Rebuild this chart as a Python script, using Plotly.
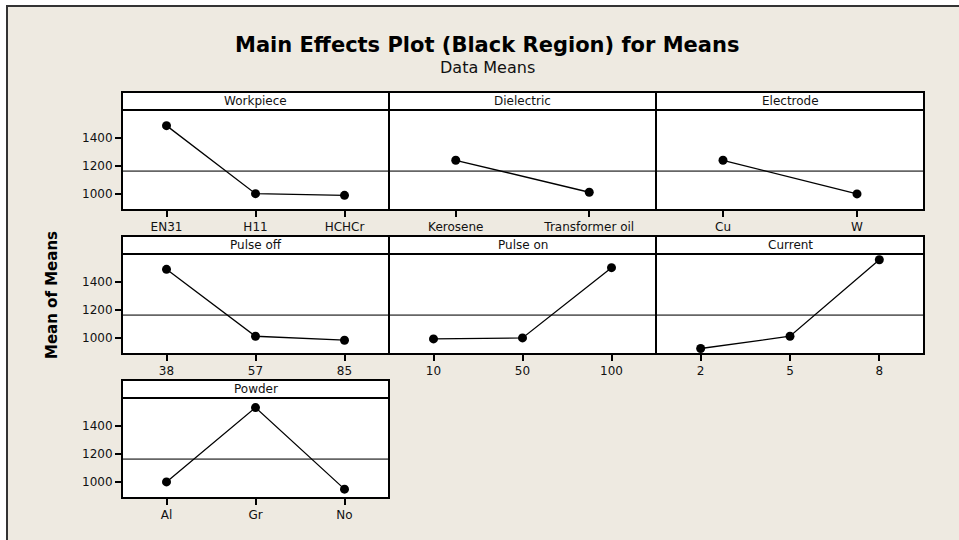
import plotly.graph_objects as go

W, H = 959, 540

# ---------------- data ----------------
factors = ["Workpiece", "Dielectric", "Electrode", "Pulse off", "Pulse on", "Current", "Powder"]
workpiece_levels = ["EN31", "H11", "HCHCr"]
workpiece_means = [1485, 1002, 990]
dielectric_levels = ["Kerosene", "Transformer oil"]
dielectric_means = [1239, 1012]
electrode_levels = ["Cu", "W"]
electrode_means = [1239, 1000]
pulse_off_levels = ["38", "57", "85"]
pulse_off_means = [1487, 1012, 984]
pulse_on_levels = ["10", "50", "100"]
pulse_on_means = [993, 1000, 1499]
current_levels = ["2", "5", "8"]
current_means = [925, 1012, 1555]
powder_levels = ["Al", "Gr", "No"]
powder_means = [1000, 1528, 949]
grand_mean = 1162
y_ticks = [1000, 1200, 1400]
y_range = [886, 1596]

levels = [workpiece_levels, dielectric_levels, electrode_levels, pulse_off_levels,
          pulse_on_levels, current_levels, powder_levels]
means = [workpiece_means, dielectric_means, electrode_means, pulse_off_means,
         pulse_on_means, current_means, powder_means]

# ---------------- layout geometry (pixels) ----------------
col_x = [(122, 389), (389, 656), (656, 924)]
row_y = [(92, 110, 210), (236, 254, 354), (380, 398, 498)]

BG = "#EEEAE1"
FONT = "DejaVu Sans"
LW = 2

fig = go.Figure()
shapes = []
annotations = []
layout = {}

for i, (name, lv, mv) in enumerate(zip(factors, levels, means)):
    n = i + 1
    r, c = divmod(i, 3)
    x0, x1 = col_x[c]
    ht, hb, pb = row_y[r]
    xa = "xaxis" if n == 1 else f"xaxis{n}"
    ya = "yaxis" if n == 1 else f"yaxis{n}"
    xr = "x" if n == 1 else f"x{n}"
    yr = "y" if n == 1 else f"y{n}"
    layout[xa] = dict(
        domain=[x0 / W, x1 / W], anchor=yr, type="category",
        range=[-0.5, len(lv) - 0.5],
        showline=False,
        ticks="outside", ticklen=6, tickwidth=1.5, tickcolor="black",
        showgrid=False, zeroline=False,
        tickfont=dict(family=FONT, size=12, color="#111"),
    )
    layout[ya] = dict(
        domain=[1 - pb / H, 1 - hb / H], anchor=xr,
        range=y_range, tickvals=y_ticks,
        showticklabels=(c == 0), ticks="outside" if c == 0 else "",
        ticklen=6, tickwidth=1.5, tickcolor="black",
        showline=False,
        showgrid=False, zeroline=False,
        tickfont=dict(family=FONT, size=12, color="#111"),
    )
    fig.add_trace(go.Scatter(
        x=lv, y=mv, xaxis=xr, yaxis=yr, mode="lines+markers",
        line=dict(color="black", width=1.3),
        marker=dict(size=9, color="black"),
        showlegend=False, cliponaxis=False,
    ))
    shapes.append(dict(
        type="line", xref=f"{xr} domain", yref=yr, x0=0, x1=1,
        y0=grand_mean, y1=grand_mean,
        line=dict(color="#666666", width=1.8), layer="below",
    ))
    # panel frame
    shapes.append(dict(
        type="rect", xref=f"{xr} domain", yref=f"{yr} domain",
        x0=0, x1=1, y0=0, y1=1,
        line=dict(color="black", width=LW), layer="above",
    ))
    # strip header
    shapes.append(dict(
        type="rect", xref="paper", yref="paper",
        x0=x0 / W, x1=x1 / W, y0=1 - hb / H, y1=1 - ht / H,
        fillcolor="white", line=dict(color="black", width=LW), layer="above",
    ))
    annotations.append(dict(
        text=name, xref="paper", yref="paper",
        x=(x0 + x1) / 2 / W, y=1 - (ht + hb) / 2 / H,
        xanchor="center", yanchor="middle", showarrow=False,
        font=dict(family=FONT, size=12, color="#111"),
    ))

# outer frame: white strips outside the beige frame + dark frame lines
shapes += [
    dict(type="rect", xref="paper", yref="paper", x0=0, x1=6 / W, y0=0, y1=1,
         fillcolor="white", line=dict(width=0), layer="below"),
    dict(type="rect", xref="paper", yref="paper", x0=0, x1=1, y0=1 - 5 / H, y1=1,
         fillcolor="white", line=dict(width=0), layer="below"),
    dict(type="line", xref="paper", yref="paper", x0=6 / W, x1=1, y0=1 - 6 / H, y1=1 - 6 / H,
         line=dict(color="#333", width=2), layer="above"),
    dict(type="line", xref="paper", yref="paper", x0=7 / W, x1=7 / W, y0=0, y1=1 - 6 / H,
         line=dict(color="#333", width=2), layer="above"),
]

annotations += [
    dict(text="<b>Main Effects Plot (Black Region) for Means</b>", xref="paper", yref="paper",
         x=487 / W, y=1 - 45 / H, xanchor="center", yanchor="middle", showarrow=False,
         font=dict(family=FONT, size=21, color="black")),
    dict(text="Data Means", xref="paper", yref="paper",
         x=487 / W, y=1 - 68 / H, xanchor="center", yanchor="middle", showarrow=False,
         font=dict(family=FONT, size=16, color="#111")),
    dict(text="<b>Mean of Means</b>", xref="paper", yref="paper",
         x=52 / W, y=1 - 295 / H, xanchor="center", yanchor="middle", showarrow=False,
         textangle=-90, font=dict(family=FONT, size=15, color="black")),
]

fig.update_layout(
    width=W, height=H, autosize=False,
    margin=dict(l=0, r=0, t=0, b=0),
    paper_bgcolor=BG, plot_bgcolor="white",
    shapes=shapes, annotations=annotations,
    **layout,
)

fig.write_html(
    "out.html",
    config={"displayModeBar": False},
    post_script="document.body.style.margin='0';document.body.style.overflow='hidden';",
)
